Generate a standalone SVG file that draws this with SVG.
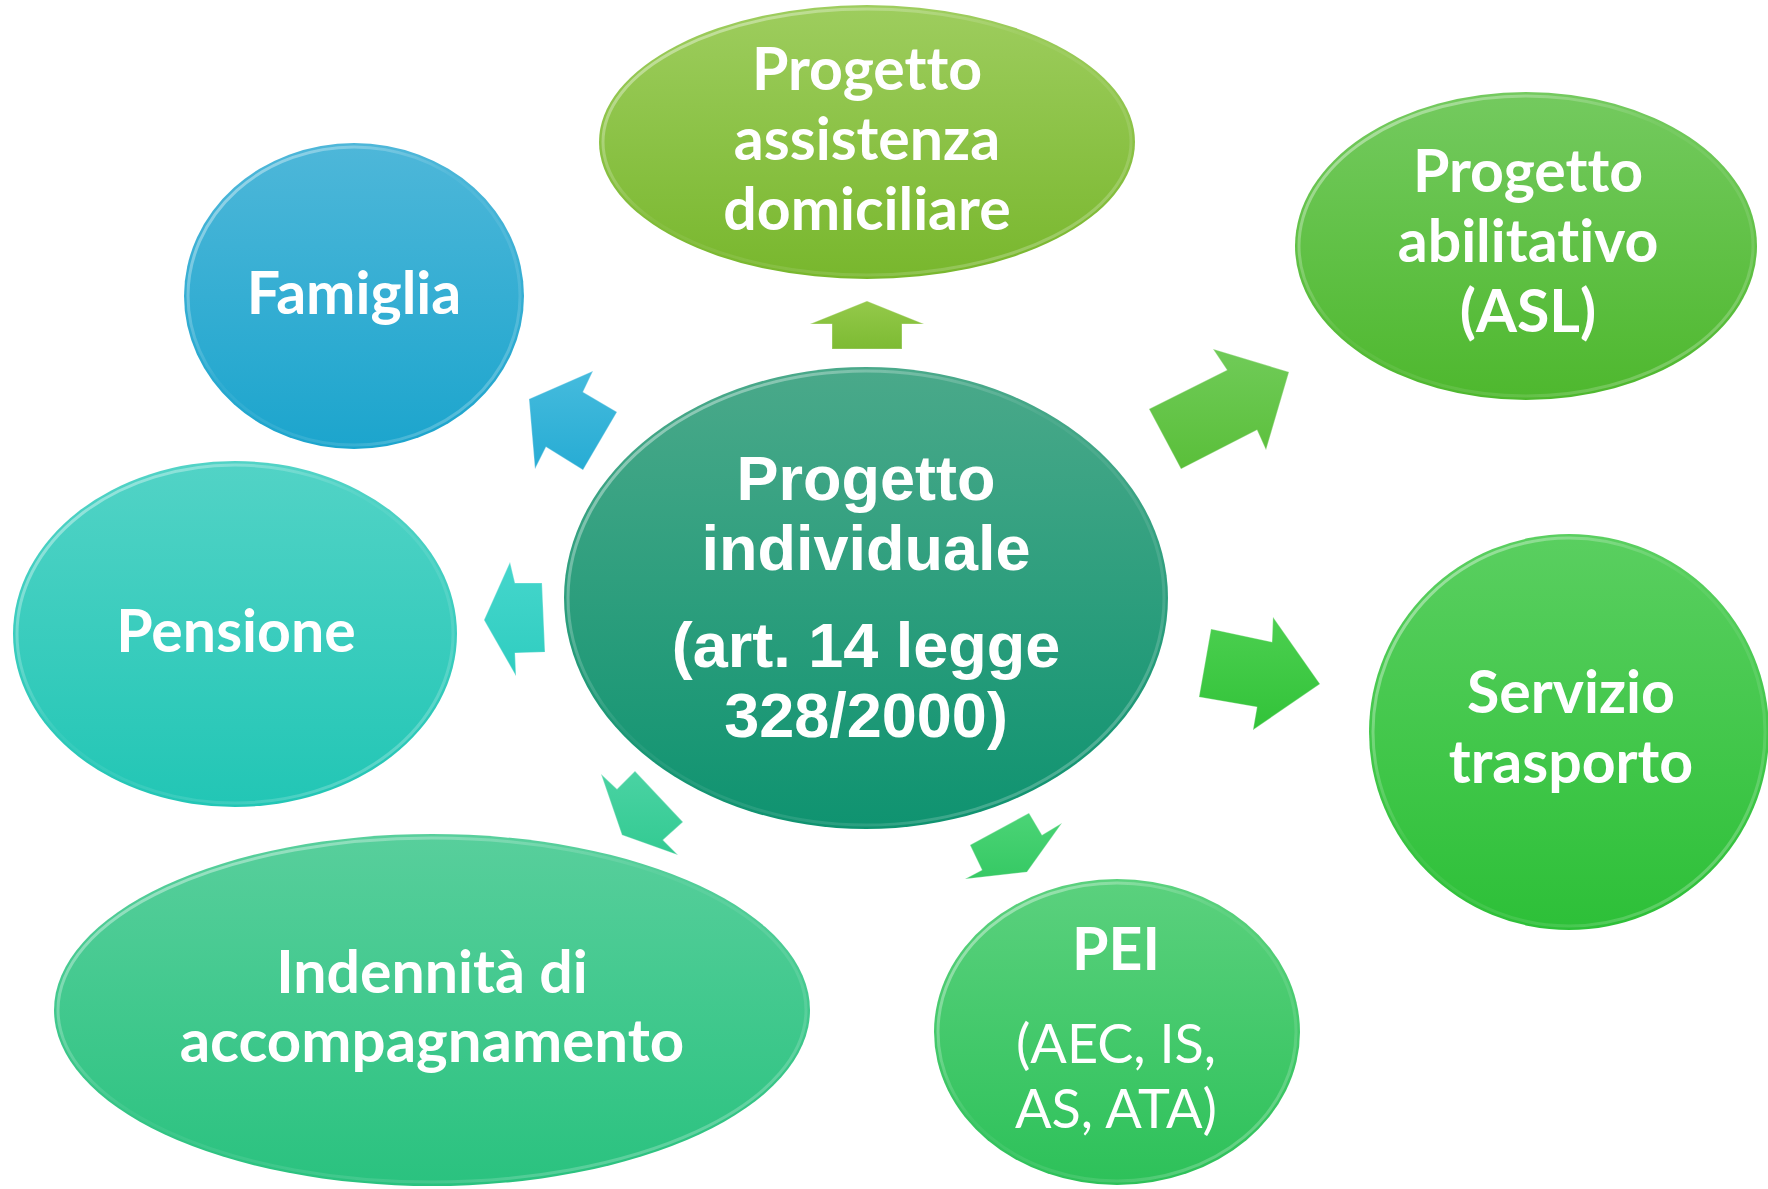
<svg xmlns="http://www.w3.org/2000/svg" width="1768" height="1189" viewBox="0 0 1768 1189">
<style>
.t{font-family:Lato,"Noto Sans","Open Sans",sans-serif;font-weight:700;fill:#ffffff;text-anchor:middle;font-size:59px;font-variant-ligatures:none;font-feature-settings:"liga" 0,"clig" 0}
.r{font-family:Lato,"Noto Sans","Open Sans",sans-serif;font-weight:400;fill:#ffffff;text-anchor:middle;font-size:54px;font-variant-ligatures:none;font-feature-settings:"liga" 0,"clig" 0}
.c{font-family:"Liberation Sans",Arial,sans-serif;font-weight:700;fill:#ffffff;text-anchor:middle;font-size:63px}
.rim{fill:none;stroke:url(#rim);stroke-width:3}
.arw{stroke:#ffffff;stroke-opacity:0.3;stroke-width:1.2;stroke-linejoin:round}
</style>
<defs>
<linearGradient id="rim" x1="0" y1="0" x2="1" y2="1">
<stop offset="0" stop-color="#ffffff" stop-opacity="0.55"/>
<stop offset="0.45" stop-color="#ffffff" stop-opacity="0.05"/>
<stop offset="0.75" stop-color="#ffffff" stop-opacity="0.12"/>
<stop offset="1" stop-color="#ffffff" stop-opacity="0.4"/>
</linearGradient>
<linearGradient id="gC" x1="0" y1="0" x2="0" y2="1"><stop offset="0" stop-color="#4aa98a"/><stop offset="1" stop-color="#0f9370"/></linearGradient>
<linearGradient id="gTop" x1="0" y1="0" x2="0" y2="1"><stop offset="0" stop-color="#9ecd5e"/><stop offset="1" stop-color="#78b72d"/></linearGradient>
<linearGradient id="gFam" x1="0" y1="0" x2="0" y2="1"><stop offset="0" stop-color="#4eb7d9"/><stop offset="1" stop-color="#1ca5cd"/></linearGradient>
<linearGradient id="gAbi" x1="0" y1="0" x2="0" y2="1"><stop offset="0" stop-color="#74ca5f"/><stop offset="1" stop-color="#4eb82e"/></linearGradient>
<linearGradient id="gPen" x1="0" y1="0" x2="0" y2="1"><stop offset="0" stop-color="#52d3c6"/><stop offset="1" stop-color="#22c6b5"/></linearGradient>
<linearGradient id="gSer" x1="0" y1="0" x2="0" y2="1"><stop offset="0" stop-color="#5acf60"/><stop offset="1" stop-color="#2dc038"/></linearGradient>
<linearGradient id="gInd" x1="0" y1="0" x2="0" y2="1"><stop offset="0" stop-color="#58cf9c"/><stop offset="1" stop-color="#2ac27f"/></linearGradient>
<linearGradient id="gPei" x1="0" y1="0" x2="0" y2="1"><stop offset="0" stop-color="#5bd17e"/><stop offset="1" stop-color="#2dc159"/></linearGradient>
<linearGradient id="aUp" x1="0" y1="0" x2="0" y2="1"><stop offset="0" stop-color="#94c94a"/><stop offset="1" stop-color="#7dbb33"/></linearGradient>
<linearGradient id="aFam" x1="0" y1="0" x2="0" y2="1"><stop offset="0" stop-color="#45bbdd"/><stop offset="1" stop-color="#27acd4"/></linearGradient>
<linearGradient id="aPen" x1="0" y1="0" x2="0" y2="1"><stop offset="0" stop-color="#45d6cc"/><stop offset="1" stop-color="#2fcdc0"/></linearGradient>
<linearGradient id="aInd" x1="0" y1="0" x2="0" y2="1"><stop offset="0" stop-color="#4ad3a3"/><stop offset="1" stop-color="#33ca92"/></linearGradient>
<linearGradient id="aPei" x1="0" y1="0" x2="0" y2="1"><stop offset="0" stop-color="#4bd476"/><stop offset="1" stop-color="#36c964"/></linearGradient>
<linearGradient id="aSer" x1="0" y1="0" x2="0" y2="1"><stop offset="0" stop-color="#4ccf50"/><stop offset="1" stop-color="#32c339"/></linearGradient>
<linearGradient id="aAbi" x1="0" y1="0" x2="0" y2="1"><stop offset="0" stop-color="#70cb58"/><stop offset="1" stop-color="#5abf3a"/></linearGradient>
</defs>
<rect width="1768" height="1189" fill="#ffffff"/>

<g id="connectors">
<polygon class="arw" fill="url(#aUp)" points="867,301 924,324 902,324 902,349 832,349 832,324 810,324"/>
<polygon class="arw" fill="url(#aFam)" points="529,399 593,371 583,392 617,412 583,470 546,447 535,469"/>
<polygon class="arw" fill="url(#aPen)" points="484,620 510,562 515,583 542,583 545,652 515,653 516,676"/>
<polygon class="arw" fill="url(#aInd)" points="601,774 617,789 635,771 683,822 663,840 678,855 622,835"/>
<polygon class="arw" fill="url(#aPei)" points="970,845 1029,813 1042,835 1062,823 1027,872 965,879 982,870"/>
<polygon class="arw" fill="url(#aSer)" points="1211,629 1272,642 1273,617 1320,684 1253,730 1257,707 1199,697"/>
<polygon class="arw" fill="url(#aAbi)" points="1149,409 1227,370 1213,349 1289,372 1266,450 1257,430 1181,469"/>
</g>

<g id="node-assistenza">
<ellipse cx="867" cy="142" rx="268" ry="137" fill="url(#gTop)"/>
<ellipse class="rim" cx="867" cy="142" rx="264" ry="133"/>
<text class="t" x="867" y="90">Progetto</text>
<text class="t" x="867" y="160">assistenza</text>
<text class="t" x="867" y="230">domiciliare</text>
</g>

<g id="node-famiglia">
<ellipse cx="354" cy="296" rx="170" ry="153" fill="url(#gFam)"/>
<ellipse class="rim" cx="354" cy="296" rx="166" ry="149"/>
<text class="t" x="354" y="314">Famiglia</text>
</g>

<g id="node-abilitativo">
<ellipse cx="1526" cy="246" rx="231" ry="154" fill="url(#gAbi)"/>
<ellipse class="rim" cx="1526" cy="246" rx="227" ry="150"/>
<text class="t" x="1528" y="192">Progetto</text>
<text class="t" x="1528" y="262">abilitativo</text>
<text class="t" x="1528" y="332">(ASL)</text>
</g>

<g id="node-pensione">
<ellipse cx="235" cy="634" rx="222" ry="173" fill="url(#gPen)"/>
<ellipse class="rim" cx="235" cy="634" rx="218" ry="169"/>
<text class="t" x="236" y="652">Pensione</text>
</g>

<g id="node-centro">
<ellipse cx="866" cy="598" rx="302" ry="231" fill="url(#gC)"/>
<ellipse class="rim" cx="866" cy="598" rx="298" ry="227"/>
<text class="c" x="866" y="500">Progetto</text>
<text class="c" x="866" y="570">individuale</text>
<text class="c" x="866" y="667">(art. 14 legge</text>
<text class="c" x="866" y="737">328/2000)</text>
</g>

<g id="node-servizio">
<ellipse cx="1569" cy="732" rx="200" ry="198" fill="url(#gSer)"/>
<ellipse class="rim" cx="1569" cy="732" rx="196" ry="194"/>
<text class="t" x="1571" y="713">Servizio</text>
<text class="t" x="1571" y="783">trasporto</text>
</g>

<g id="node-indennita">
<ellipse cx="432" cy="1010" rx="378" ry="176" fill="url(#gInd)"/>
<ellipse class="rim" cx="432" cy="1010" rx="374" ry="172"/>
<text class="t" x="432" y="993">Indennità di</text>
<text class="t" x="432" y="1062" style="font-size:60px">accompagnamento</text>
</g>

<g id="node-pei">
<ellipse cx="1117" cy="1032" rx="183" ry="153" fill="url(#gPei)"/>
<ellipse class="rim" cx="1117" cy="1032" rx="179" ry="149"/>
<text class="t" x="1116" y="970">PEI</text>
<text class="r" x="1116" y="1063">(AEC, IS,</text>
<text class="r" x="1116" y="1128">AS, ATA)</text>
</g>
</svg>
